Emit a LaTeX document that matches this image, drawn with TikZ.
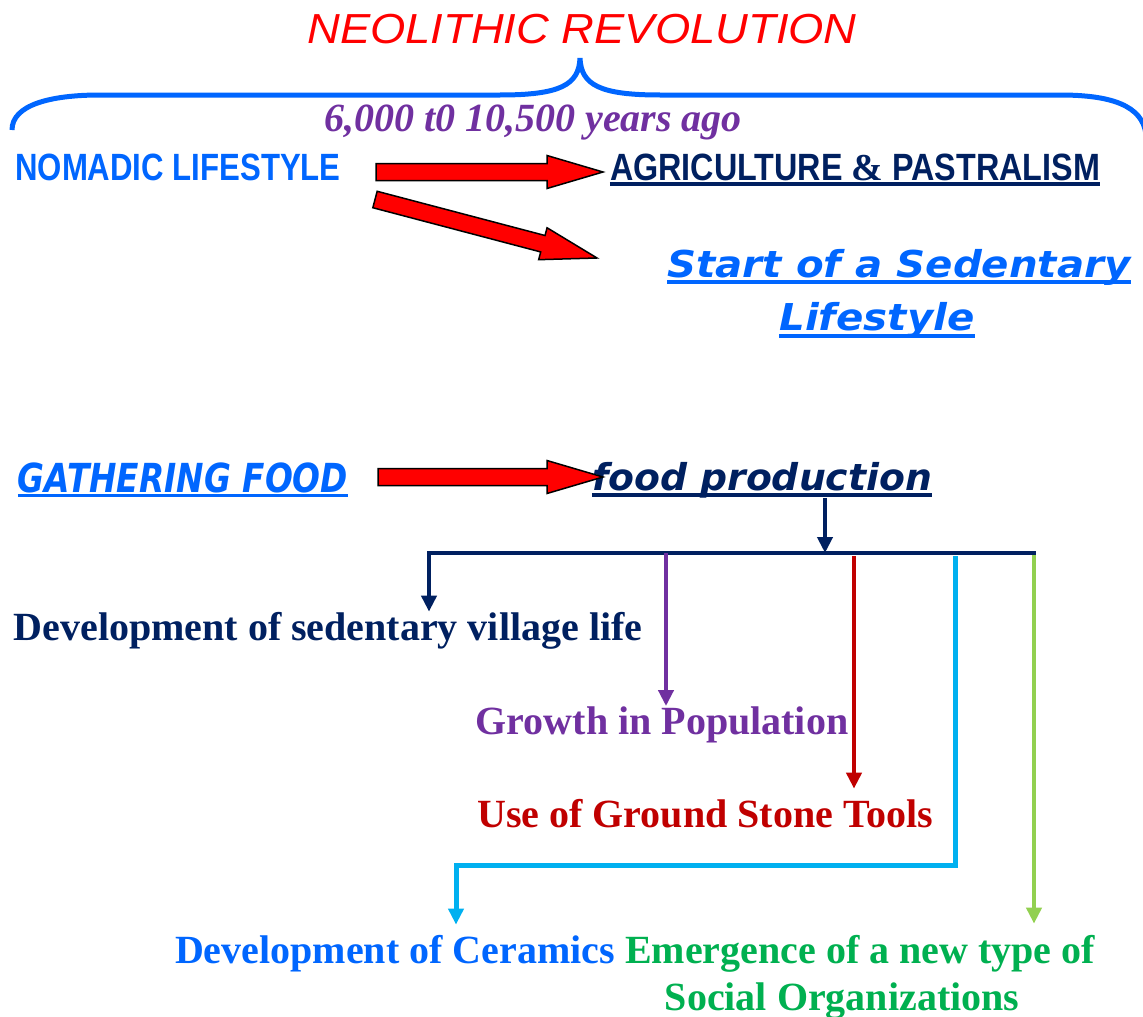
\documentclass[tikz,border=0pt]{standalone}
\usepackage{fontspec}
\usepackage{tikz}
\usetikzlibrary{arrows.meta}
\setmainfont{Liberation Serif}
\newfontfamily\headfont[FakeStretch=1.08]{Liberation Sans}
\newfontfamily\narrowfont[FakeStretch=0.82]{Liberation Sans}
\newfontfamily\agrifont[FakeStretch=0.85]{Liberation Sans}
\newfontfamily\widefont[FakeStretch=1.09]{DejaVu Sans}
\newfontfamily\foodfont[FakeStretch=1.02]{DejaVu Sans}
\newfontfamily\gatherfont[FakeStretch=0.82]{DejaVu Sans}
\definecolor{neoblue}{RGB}{0,102,255}
\definecolor{neonavy}{RGB}{0,32,96}
\definecolor{neopurple}{RGB}{112,48,160}
\definecolor{neodarkred}{RGB}{192,0,0}
\definecolor{neocyan}{RGB}{0,176,240}
\definecolor{neolime}{RGB}{146,208,80}
\definecolor{neogreen}{RGB}{0,176,80}

\begin{document}
\begin{tikzpicture}[x=1pt, y=-1pt,
  lbl/.style={inner sep=0pt, anchor=base},
  big/.style={lbl, font=\bfseries\fontsize{40}{47}\selectfont},
  link/.style={line width=4pt, -{Triangle[length=16pt, width=15pt]}},
  uline/.style={line width=3.5pt},
  pics/redarrow/.style={code={
    \draw[fill=red, line width=1.5pt] (0,-8.5) -- (#1-56,-8.5) -- (#1-56,-16.5) -- (#1,0) -- (#1-56,16.5) -- (#1-56,8.5) -- (0,8.5) -- cycle;}}]
\useasboundingbox (0,0) rectangle (1143,1017);
\node[lbl, font=\headfont\itshape\fontsize{42}{48}\selectfont, text=red] (neo) at (582,43) {NEOLITHIC REVOLUTION};
\draw[neoblue, line width=5pt] (12,130) .. controls (12,105) and (50,95) .. (100,95) -- (500,95) .. controls (560,95) and (579,85) .. (580,58) .. controls (581,85) and (600,95) .. (660,95) -- (1060,95) .. controls (1110,95) and (1143,105) .. (1146,135);
\node[lbl, font=\bfseries\itshape\fontsize{40}{47}\selectfont, text=neopurple] (years) at (533,131) {6,000 t0 10,500 years ago};
\node[lbl, font=\narrowfont\bfseries\fontsize{38}{44}\selectfont, text=neoblue] (nomadic) at (178,180) {NOMADIC LIFESTYLE};
\node[lbl, font=\agrifont\bfseries\fontsize{38}{44}\selectfont, text=neonavy] (agri) at (855,180) {AGRICULTURE {\rmfamily\&} PASTRALISM};
\node[lbl, font=\widefont\bfseries\itshape\fontsize{37}{44}\selectfont, text=neoblue] (sed1) at (899,277) {Start of a Sedentary};
\node[lbl, font=\widefont\bfseries\itshape\fontsize{37}{44}\selectfont, text=neoblue] (sed2) at (877,330) {Lifestyle};
\node[lbl, font=\gatherfont\bfseries\itshape\fontsize{40}{47}\selectfont, text=neoblue] (gather) at (183,492) {GATHERING FOOD};
\node[lbl, font=\foodfont\bfseries\itshape\fontsize{37}{44}\selectfont, text=neonavy] (food) at (762,490) {food production};
\node[big, text=neonavy] (village) at (328,640) {Development of sedentary village life};
\node[big, text=neopurple] (growth) at (662,734) {Growth in Population};
\node[big, text=neodarkred] (tools) at (705,827) {Use of Ground Stone Tools};
\node[big, text=neoblue] (ceramics) at (395,963) {Development of Ceramics};
\node[big, text=neogreen] (emerge1) at (860,963) {Emergence of a new type of};
\node[big, text=neogreen] (emerge2) at (842,1010) {Social Organizations};
\draw[uline, neonavy] ([yshift=-4pt]agri.base west) -- ([yshift=-4pt]agri.base east);
\draw[uline, neoblue] ([yshift=-5pt]sed1.base west) -- ([yshift=-5pt]sed1.base east);
\draw[uline, neoblue] ([yshift=-6pt]sed2.base west) -- ([yshift=-6pt]sed2.base east);
\draw[uline, neoblue] ([yshift=-3.5pt]gather.base west) -- ([yshift=-3.5pt]gather.base east);
\draw[uline, neonavy] ([yshift=-5pt]food.base west) -- ([yshift=-5pt]food.base east);
\coordinate (r1) at (376,172);
\coordinate (r2) at (375,199.5);
\coordinate (r3) at (378,477);
\pic at (r1) {redarrow=227};
\pic[rotate=-14.76] at (r2) {redarrow=229.6};
\pic at (r3) {redarrow=225};
\coordinate (barL) at (427,553);
\coordinate (barR) at (1036,553);
\coordinate (hub) at (825,553);
\coordinate (b1) at (429,553);
\coordinate (b2) at (666,553);
\coordinate (b3) at (854,556);
\coordinate (b4) at (955,556);
\coordinate (b5) at (1034,555);
\coordinate (elbow) at (456,865);
\draw[link, neonavy] (food.south -| hub) -- (hub);
\draw[neonavy, line width=4pt] (barL) -- (barR);
\draw[link, neonavy] (b1) -- (village.north -| b1);
\draw[link, neopurple] (b2) -- (growth.north -| b2);
\draw[link, neodarkred, shorten >=10pt] (b3) -- (tools.north -| b3);
\draw[link, neocyan, line width=5pt, shorten >=10pt] (b4) |- (elbow) -- (ceramics.north -| elbow);
\draw[link, neolime, shorten >=11pt] (b5) -- (emerge1.north -| b5);
\end{tikzpicture}
\end{document}
